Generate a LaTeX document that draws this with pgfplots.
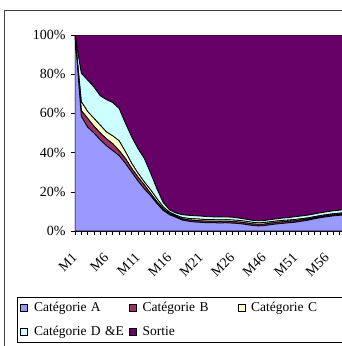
\documentclass[border=0pt]{standalone}
\usepackage{fontspec}
\setmainfont{Liberation Serif}
\usepackage{pgfplots}
\usepackage{pgfplotstable}
\pgfplotsset{compat=1.18}
\definecolor{catA}{HTML}{9999FF}
\definecolor{catB}{HTML}{993366}
\definecolor{catC}{HTML}{FFFFCC}
\definecolor{catD}{HTML}{CCFFFF}
\definecolor{catS}{HTML}{660066}

\pgfplotstableread{
idx A B C D S
0 100 0 0 0 0
1 58.5 3 4.5 14.5 19.5
2 53 4.5 3.5 16 23
3 50 3.5 4 16 26.5
4 46.5 3.5 4 15 31
5 43.5 3.5 3.5 16.5 33
6 41 3.5 4 17 34.5
7 38.5 2.5 5 16.5 37.5
8 34.5 2.5 3.5 14.5 45
9 30 2 2.5 13.5 52
10 25.5 2 2 12.5 58
11 21.5 2 1.5 12 63
12 18 1.2 1.8 8.5 70.5
13 14 1 1.5 5 78.5
14 10.5 0.8 1 2.2 85.5
15 8.3 0.6 0.7 1.2 89.2
16 7 0.5 0.6 1.1 90.8
17 5.6 0.6 0.7 1.4 91.7
18 5 0.7 0.7 1.6 92
19 4.6 0.8 0.8 1.6 92.2
20 4.4 0.8 0.8 1.6 92.4
21 4.2 0.8 0.8 1.5 92.7
22 4.2 0.8 0.8 1.4 92.8
23 4.1 0.8 0.8 1.4 92.9
24 4.2 0.8 0.8 1.4 92.8
25 4 0.8 0.8 1.4 93
26 3.8 0.8 0.8 1.2 93.4
27 3.4 0.8 0.8 1.1 93.9
28 2.9 0.8 0.8 1 94.5
29 2.6 0.8 0.8 1 94.8
30 2.7 0.8 0.8 1 94.7
31 3.2 0.8 0.7 1.1 94.2
32 3.6 0.8 0.7 1.1 93.8
33 3.9 0.8 0.7 1.2 93.4
34 4.2 0.8 0.6 1.3 93.1
35 4.5 0.7 0.7 1.4 92.7
36 5 0.7 0.6 1.4 92.3
37 5.5 0.6 0.6 1.4 91.9
38 6.2 0.5 0.6 1.4 91.3
39 6.8 0.5 0.6 1.4 90.7
40 7.3 0.5 0.6 1.4 90.2
41 7.7 0.5 0.6 1.5 89.7
42 8 0.5 0.6 1.5 89.4
43 8.3 0.5 0.6 1.6 89
44 8.6 0.5 0.6 1.6 88.7
}\data

\begin{document}
\begin{tikzpicture}[x=1pt,y=1pt]
\begin{axis}[
  at={(0,0)}, anchor=south west,
  scale only axis, width=277.2pt, height=196pt,
  xmin=0, xmax=44, ymin=0, ymax=100,
  stack plots=y,
  axis x line*=bottom, axis y line*=left,
  axis line style={line width=0.8pt, black},
  tick align=outside, tick style={black, line width=0.6pt},
  major tick length=4pt, minor tick length=4pt,
  xtick={0,5,...,40},
  xticklabels={M1,M6,M11,M16,M21,M26,M46,M51,M56},
  minor xtick={0,...,44},
  ytick={0,20,...,100},
  yticklabel={\pgfmathparse{int(\tick)}\pgfmathresult\%},
  every tick label/.append style={font=\fontsize{14}{16}\selectfont},
  xticklabel style={rotate=45, anchor=east, yshift=-14pt, xshift=-11pt},
  yticklabel style={xshift=-2pt},
  legend columns=3,
  legend cell align=left,
  legend style={at={(axis description cs:-0.2092,-0.337)}, anchor=north west,
    draw=black, line width=0.8pt, font=\fontsize{13.5}{16}\selectfont,
    inner xsep=3pt, inner ysep=3pt, row sep=9pt,
    /tikz/every odd column/.append style={column sep=4pt},
    /tikz/every even column/.append style={text width=93pt}},
  legend image code/.code={\draw[#1, draw=black, line width=0.6pt] (0pt,-3.5pt) rectangle (7pt,3.5pt);},
]
\addplot[fill=catA, draw=black, line width=0.8pt] table[x=idx,y=A]{\data} \closedcycle;
\addplot[fill=catB, draw=black, line width=0.8pt] table[x=idx,y=B]{\data} \closedcycle;
\addplot[fill=catC, draw=black, line width=0.8pt] table[x=idx,y=C]{\data} \closedcycle;
\addplot[fill=catD, draw=black, line width=0.8pt] table[x=idx,y=D]{\data} \closedcycle;
\addplot[fill=catS, draw=black, line width=0.8pt] table[x=idx,y=S]{\data} \closedcycle;
\legend{\mbox{Catégorie A}, \mbox{Catégorie B}, \mbox{Catégorie C}, \mbox{Catégorie D \&E}, Sortie}
\end{axis}
\draw[black!75, line width=1pt] (-70,221) rectangle (300,-140);
\pgfresetboundingbox
\path[use as bounding box] (-75,-115) rectangle (267,231);
\end{tikzpicture}
\end{document}
